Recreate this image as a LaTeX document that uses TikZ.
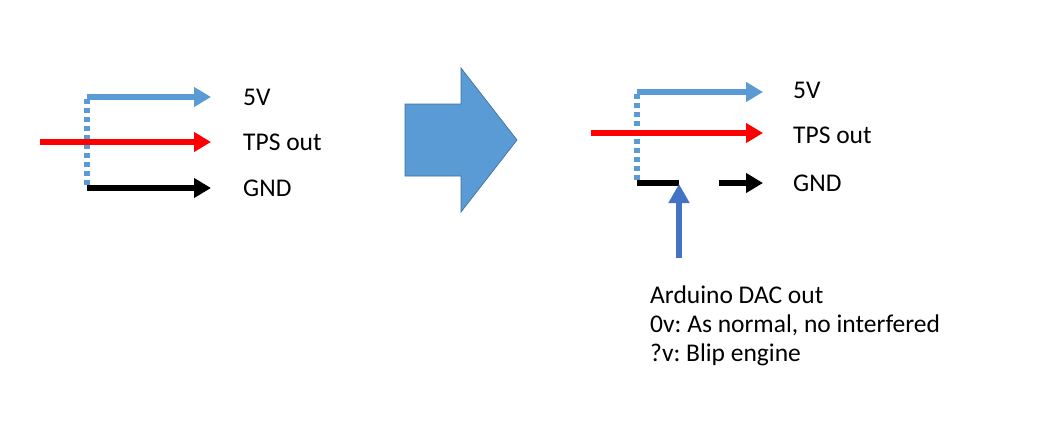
\documentclass[tikz,border=0pt]{standalone}
\usepackage{fontspec}
\setmainfont{Carlito}
\usetikzlibrary{arrows.meta}
\definecolor{lblue}{HTML}{5B9BD5}
\definecolor{dblue}{HTML}{4472C4}
\definecolor{bordblue}{HTML}{41719C}
\frenchspacing
\tikzset{
  wire/.style={line width=5.4pt},
  tip/.style={-{Triangle[length=17pt,width=19pt]}},
  dots/.style={wire,lblue,dash pattern=on 5pt off 4pt},
  lbl/.style={anchor=west,inner sep=0pt,font=\fontsize{25.5}{29}\selectfont},
}
\begin{document}
\begin{tikzpicture}[x=1pt,y=-1pt]
\useasboundingbox (0,0) rectangle (1063,436);
% left panel
\coordinate (Lc1) at (87,97);
\coordinate (Lc2) at (87,188);
\coordinate (Lr0) at (40,142);
\coordinate (L5) at (211,97);
\coordinate (Lt) at (211,142);
\coordinate (Lg) at (211,188);
\draw[dots] (87,99) -- (87,186);
\draw[wire,lblue,tip] (Lc1) -- (L5);
\draw[wire,red,tip] (Lr0) -- (Lt);
\draw[wire,black,tip] (Lc2) -- (Lg);
\node[lbl] (l5v) at (243,97) {5V};
\node[lbl] (ltps) at (243,142) {TPS out};
\node[lbl] (lgnd) at (243,188) {GND};
% big arrow
\filldraw[fill=lblue,draw=bordblue,line width=0.7pt]
  (405,104) -- (461,104) -- (461,68) -- (517,140) -- (461,212) -- (461,176) -- (405,176) -- cycle;
% right panel
\coordinate (Rc1) at (637,92);
\coordinate (Rc2) at (637,183);
\coordinate (Rr0) at (591,133);
\coordinate (R5) at (763,92);
\coordinate (Rt) at (763,133);
\coordinate (Rj) at (679,183);
\coordinate (Rg0) at (719,183);
\coordinate (Rg) at (763,183);
\coordinate (Ra0) at (679,258);
\draw[dots] (637,94) -- (637,181);
\draw[wire,lblue,tip] (Rc1) -- (R5);
\draw[wire,red,tip] (Rr0) -- (Rt);
\draw[wire,black] (Rc2) -- (Rj);
\draw[wire,black,tip] (Rg0) -- (Rg);
\draw[wire,dblue,-{Triangle[length=19pt,width=20pt]}] (Ra0) -- ([yshift=-1pt]Rj);
\node[lbl] (r5v) at (793,90) {5V};
\node[lbl] (rtps) at (793,135) {TPS out};
\node[lbl] (rgnd) at (793,183) {GND};
\node[anchor=north west,inner sep=0pt,align=left,font=\fontsize{25.5}{29}\selectfont] (note) at (650,286)
  {Arduino DAC out\\0v: As normal, no interfered\\?v: Blip engine};
\end{tikzpicture}
\end{document}
